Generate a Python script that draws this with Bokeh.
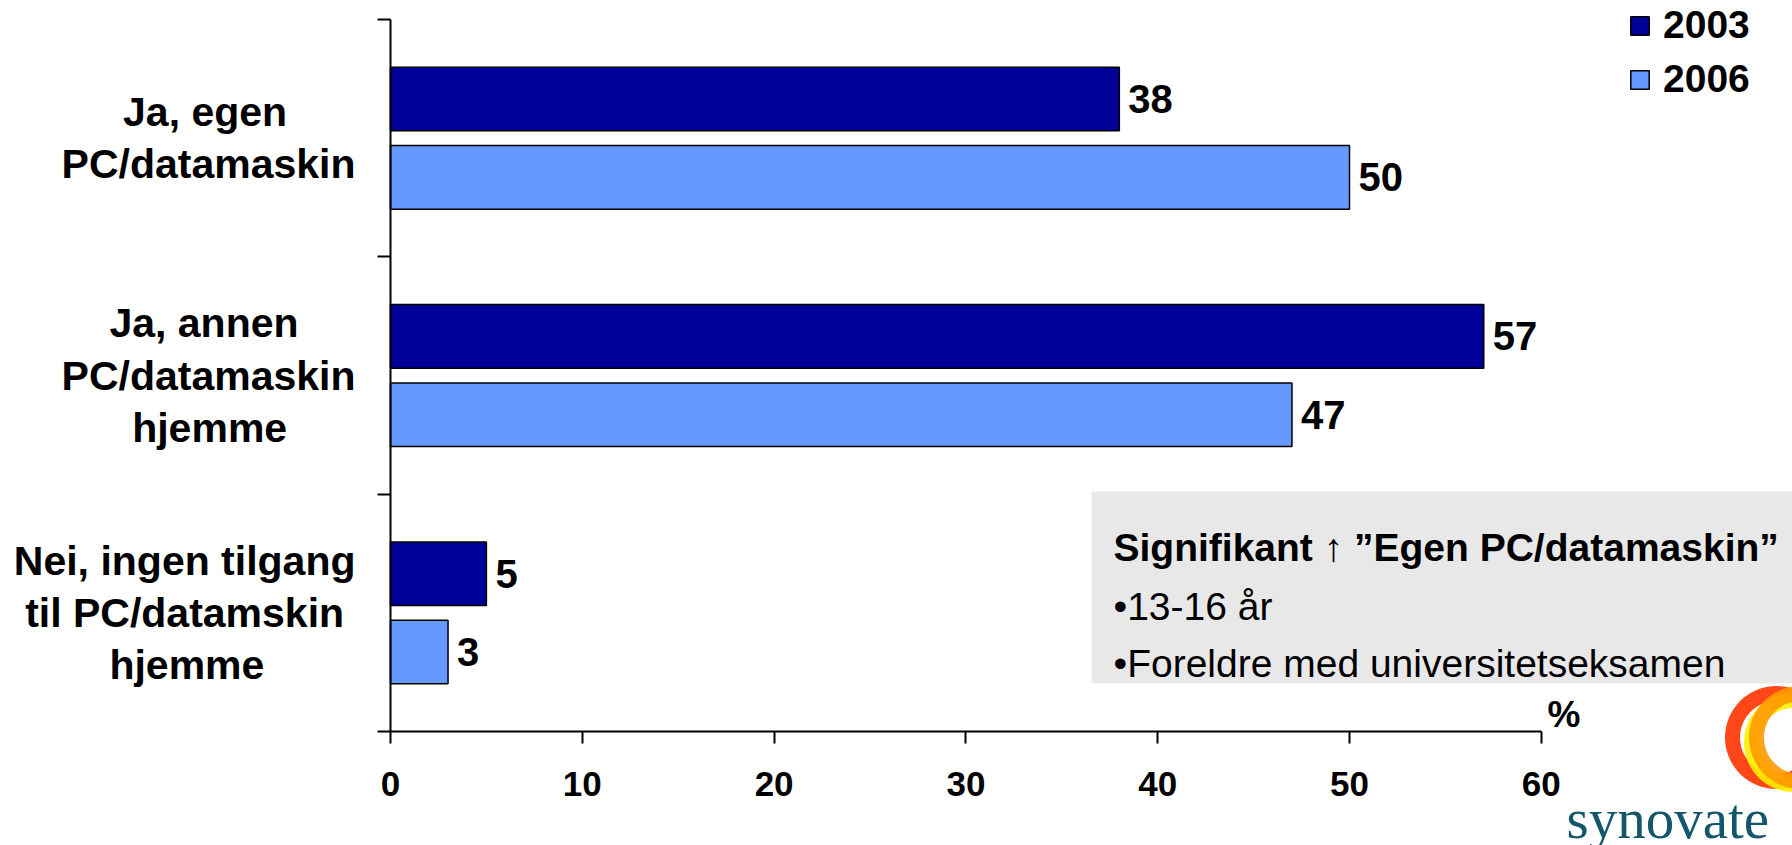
import math
from bokeh.plotting import figure
from bokeh.models import (ColumnDataSource, Range1d, FixedTicker, Legend, LegendItem,
                          Label, BoxAnnotation, PolyAnnotation)
from bokeh.core.properties import value
from bokeh.embed import file_html
from bokeh.resources import INLINE

# ---------------- data ----------------
NB = "\u00a0"
categories = ["Ja, egen" + NB * 6 + "\nPC/datamaskin",
              "Ja, annen" + NB * 5 + "\nPC/datamaskin\nhjemme" + NB * 6,
              "Nei, ingen tilgang\ntil PC/datamskin" + NB + "\nhjemme" + NB * 8]
series_names = ["2003", "2006"]
values_2003 = [38, 57, 5]
values_2006 = [50, 47, 3]
x_ticks = [0, 10, 20, 30, 40, 50, 60]
note_title = "Signifikant \u2191 \u201dEgen PC/datamaskin\u201d"
note_lines = ["\u202213-16 \u00e5r", "\u2022Foreldre med universitetseksamen"]

# ---------------- styling ----------------
FONT = "Liberation Sans"
C2003 = "#000099"
C2006 = "#6699FF"

W, H = 1792, 845
PX_X = 19.18     # pixels per x unit
PX_Y = 237.36    # pixels per category band
TOP = 19.0       # page y of the top of the first band
LEFT = 390.0     # page x of value 0

p = figure(width=W, height=H, output_backend="svg", toolbar_location=None,
           x_range=Range1d(-LEFT / PX_X, (W - LEFT) / PX_X),
           y_range=Range1d((H - TOP) / PX_Y, -TOP / PX_Y),
           min_border_left=0, min_border_right=0, min_border_top=0, min_border_bottom=0)
p.outline_line_color = None
p.grid.visible = False
p.background_fill_color = "white"

# helpers converting page pixels to data units (for annotations only)
def dx(px):
    return (px - LEFT) / PX_X

def dy(py):
    return (py - TOP) / PX_Y

idx = list(range(len(categories)))
off = 0.165
bh = 0.268
src03 = ColumnDataSource(dict(y=[i + 0.5 - off for i in idx], v=values_2003,
                              t=[str(v) for v in values_2003]))
src06 = ColumnDataSource(dict(y=[i + 0.5 + off for i in idx], v=values_2006,
                              t=[str(v) for v in values_2006]))

r03 = p.hbar(y="y", right="v", left=0, height=bh, source=src03,
             fill_color=C2003, line_color="black", line_width=1.5)
r06 = p.hbar(y="y", right="v", left=0, height=bh, source=src06,
             fill_color=C2006, line_color="black", line_width=1.5)

for s in (src03, src06):
    p.text(x="v", y="y", text="t", source=s, x_offset=9, text_baseline="middle",
           text_align="left", text_font=value(FONT), text_font_style="bold",
           text_font_size="40px", text_color="black")

# x axis (drawn at the bottom of the last band)
xa = p.xaxis[0]
xa.fixed_location = len(categories)
xa.ticker = FixedTicker(ticks=x_ticks, minor_ticks=[])
xa.bounds = (0, 60)
xa.axis_line_color = "black"
xa.axis_line_width = 2
xa.major_tick_out = 12
xa.major_tick_in = 0
xa.major_tick_line_width = 2
xa.minor_tick_line_color = None
xa.major_label_text_font = FONT
xa.major_label_text_font_style = "bold"
xa.major_label_text_font_size = "35px"
xa.major_label_text_color = "black"
xa.major_label_standoff = 28

# y axis at value 0: labels at band centres, ticks at band boundaries
ya = p.yaxis[0]
ya.fixed_location = 0
ya.bounds = (0, len(categories))
ya.ticker = FixedTicker(ticks=[i + 0.5 for i in idx], minor_ticks=[0, 1, 2, 3])
ya.major_label_overrides = {i + 0.5: c for i, c in zip(idx, categories)}
ya.axis_line_color = "black"
ya.axis_line_width = 2
ya.major_tick_out = 0
ya.major_tick_in = 0
ya.minor_tick_out = 13
ya.minor_tick_in = 0
ya.minor_tick_line_color = "black"
ya.minor_tick_line_width = 2
ya.major_label_text_font = FONT
ya.major_label_text_font_style = "bold"
ya.major_label_text_font_size = "41px"
ya.major_label_text_color = "black"
ya.major_label_standoff = 22
ya.major_label_text_line_height = 1.135

# legend
legend = Legend(items=[LegendItem(label=series_names[0], renderers=[r03]),
                       LegendItem(label=series_names[1], renderers=[r06])],
                location=(1628, 744), padding=0, margin=0, spacing=10,
                glyph_width=23, glyph_height=23, label_standoff=12,
                label_text_font=FONT, label_text_font_style="bold",
                label_text_font_size="39px", label_text_color="black",
                border_line_alpha=0, background_fill_alpha=0)
p.add_layout(legend, "center")

# note box
p.add_layout(BoxAnnotation(left=dx(1091), top=dy(491), bottom=dy(683),
                           fill_color="#e8e8e8", fill_alpha=1, line_alpha=0,
                           level="underlay"))
p.add_layout(Label(x=dx(1113), y=dy(547), text=note_title, text_font=FONT,
                   text_font_style="bold", text_font_size="39px", text_color="black",
                   text_baseline="alphabetic"))
for t, py in zip(note_lines, [606, 663]):
    p.add_layout(Label(x=dx(1113), y=dy(py), text=t, text_font=FONT,
                       text_font_size="39px", text_color="black",
                       text_baseline="alphabetic"))

# unit label
p.add_layout(Label(x=dx(1547), y=dy(714), text="%", text_font=FONT,
                   text_font_style="bold", text_font_size="37px", text_color="black",
                   text_baseline="alphabetic"))

# synovate logo (canvas units, y measured from the top)
def ring(cx, cy, r, color):
    n = 72
    xs = [cx + r * math.cos(2 * math.pi * k / n) for k in range(n)]
    ys = [cy + r * math.sin(2 * math.pi * k / n) for k in range(n)]
    return PolyAnnotation(xs=xs, ys=ys, xs_units="canvas", ys_units="canvas",
                          fill_alpha=0, line_color=color, line_width=15, line_alpha=0.9)

p.add_layout(ring(1776, 737, 44, "#ff3300"))
p.add_layout(ring(1793, 742, 42, "#ffee00"))
p.add_layout(ring(1800, 737, 44, "#ff9900"))
p.add_layout(Label(x=1566, y=818, x_units="canvas", y_units="canvas", text="synovate",
                   text_font="Liberation Serif", text_font_size="57px", text_color="#14576b",
                   text_baseline="alphabetic"))

open("out.html", "w").write(file_html(p, INLINE))
